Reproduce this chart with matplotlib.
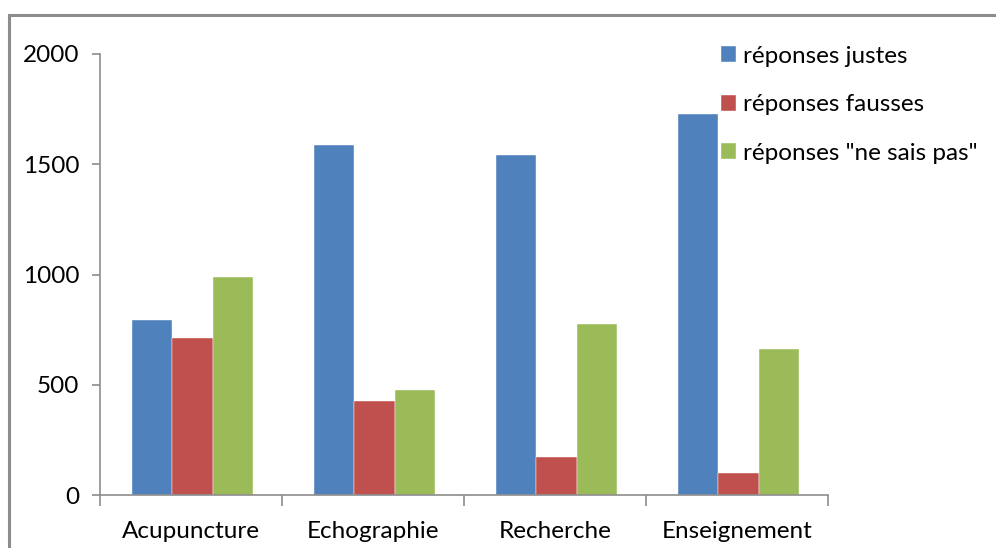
import matplotlib
matplotlib.use("Agg")
import matplotlib.pyplot as plt
from matplotlib.patches import Rectangle
import numpy as np

categories = ["Acupuncture", "Echographie", "Recherche", "Enseignement"]
series_names = ["réponses justes", "réponses fausses", 'réponses "ne sais pas"']
justes = [795, 1587, 1542, 1728]
fausses = [712, 426, 172, 100]
nsp = [989, 476, 776, 662]
colors = ["#4F81BD", "#C0504D", "#9BBB59"]
yticks = [0, 500, 1000, 1500, 2000]

plt.rcParams['font.family'] = ['Lato', 'DejaVu Sans']
FS = 17.5

W, H = 996, 548
fig = plt.figure(figsize=(W / 100, H / 100), dpi=100)
# outer frame (extends beyond right/bottom edges)
fig.patches.append(Rectangle((9 / W, -0.1), 1.2, (H - 15) / H + 0.1,
                             transform=fig.transFigure, fill=False,
                             edgecolor="#8c8c8c", linewidth=2.2))

left, right = 100 / W, 828 / W
bottom, top = 1 - 495 / H, 1 - 54 / H
ax = fig.add_axes([left, bottom, right - left, top - bottom])

x = np.arange(len(categories))
bw = 0.222
for i, (vals, name) in enumerate(zip([justes, fausses, nsp], series_names)):
    ax.bar(x + (i - 1) * bw + 0.008, vals, width=bw, color=colors[i], label=name,
           edgecolor="white", linewidth=0.3)

ax.set_xlim(-0.5, len(categories) - 0.5)
ax.set_ylim(0, 2000)
ax.set_yticks(yticks)
ax.set_yticklabels([str(v) for v in yticks], fontsize=FS, color="black")
ax.set_xticks(np.arange(len(categories) + 1) - 0.5, minor=False)
ax.set_xticklabels([])
ax.set_xticks(x, minor=True)
ax.set_xticklabels(categories, minor=True, fontsize=FS)
ax.tick_params(axis='x', which='minor', length=0, pad=19)
ax.tick_params(axis='x', which='major', length=8, color="#8c8c8c", width=1.2)
ax.tick_params(axis='y', length=6, color="#8c8c8c", width=1.2, pad=9)

for s in ["top", "right"]:
    ax.spines[s].set_visible(False)
for s in ["left", "bottom"]:
    ax.spines[s].set_color("#8c8c8c")
    ax.spines[s].set_linewidth(1.2)

handles, labels = ax.get_legend_handles_labels()
fig.legend(handles, labels, loc="upper left", bbox_to_anchor=(711 / W, 1 - 36 / H),
           frameon=False, fontsize=FS, handlelength=0.62, handleheight=0.62,
           handletextpad=0.3, labelspacing=1.13, borderaxespad=0)

fig.savefig("out.png", dpi=100)
